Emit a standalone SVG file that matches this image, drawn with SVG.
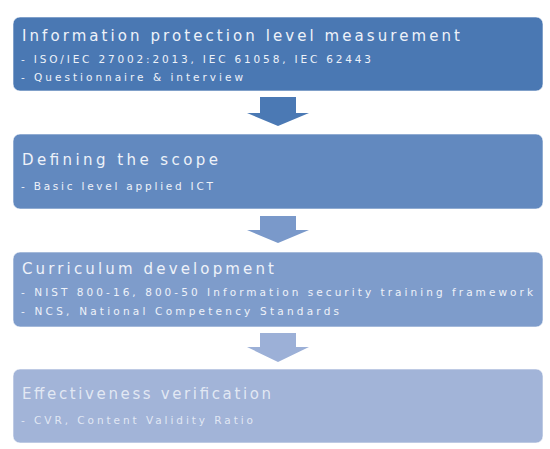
<svg xmlns="http://www.w3.org/2000/svg" width="550" height="449" viewBox="0 0 550 449">
<style>
.t{font-family:"DejaVu Sans","Noto Sans",sans-serif;font-size:15px;fill:#eef2f9}
.b{font-family:"DejaVu Sans","Noto Sans",sans-serif;font-size:10.5px;fill:#eef2f9}
.box{stroke:#ffffff;stroke-opacity:0.6;stroke-width:1}
</style>
<rect width="550" height="449" fill="#ffffff"/>
<g id="connectors">
<path d="M260,97 H296 V113 H309 L278,126 L247,113 H260 Z" fill="#4b79b4"/>
<path d="M260,216 H296 V230 H309 L278,243 L247,230 H260 Z" fill="#7a99ca"/>
<path d="M260,333 H296 V347 H309 L278,362 L247,347 H260 Z" fill="#9cb0d7"/>
</g>
<g id="node1">
<rect class="box" x="13" y="17" width="530" height="74" rx="7" fill="#4a78b3"/>
<text class="t" x="22" y="41" textLength="438" lengthAdjust="spacing">Information protection level measurement</text>
<text class="b" x="21" y="63" textLength="350" lengthAdjust="spacing">- ISO/IEC 27002:2013, IEC 61058, IEC 62443</text>
<text class="b" x="21" y="81" textLength="222" lengthAdjust="spacing">- Questionnaire &amp; interview</text>
</g>
<g id="node2">
<rect class="box" x="13" y="134" width="530" height="75" rx="7" fill="#6289bf"/>
<text class="t" x="22" y="165" textLength="196" lengthAdjust="spacing">Defining the scope</text>
<text class="b" x="21" y="190" textLength="192" lengthAdjust="spacing">- Basic level applied ICT</text>
</g>
<g id="node3">
<rect class="box" x="13" y="252" width="530" height="75" rx="7" fill="#7e9ccb"/>
<text class="t" x="22" y="274" textLength="252" lengthAdjust="spacing">Curriculum development</text>
<text class="b" x="21" y="296" textLength="512" lengthAdjust="spacing">- NIST 800-16, 800-50  Information security training framework</text>
<text class="b" x="21" y="315" textLength="318" lengthAdjust="spacing">- NCS, National Competency Standards</text>
</g>
<g id="node4">
<rect class="box" x="13" y="369" width="530" height="74" rx="7" fill="#a2b4d8"/>
<text class="t" x="22" y="399" textLength="249" lengthAdjust="spacing" fill-opacity="0.85">Effectiveness verification</text>
<text class="b" x="21" y="424" textLength="232" lengthAdjust="spacing" fill-opacity="0.85">- CVR, Content Validity Ratio</text>
</g>
</svg>
